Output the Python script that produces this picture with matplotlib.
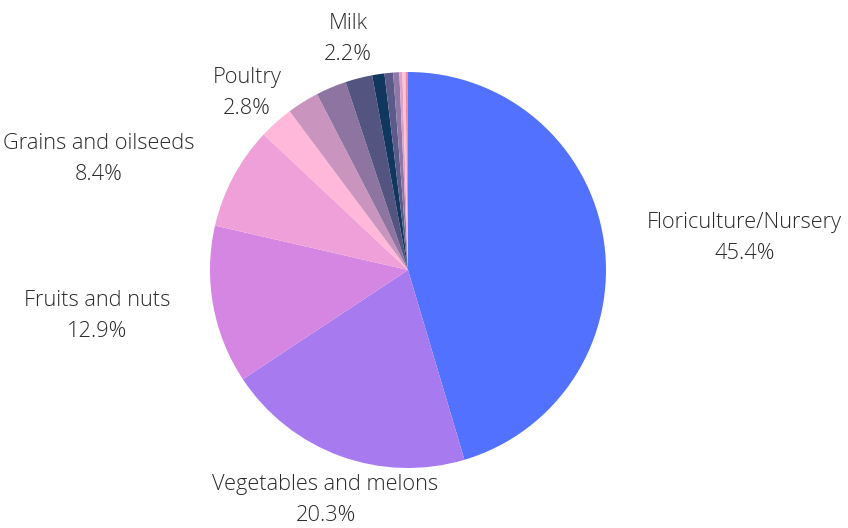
import numpy as np
import matplotlib.pyplot as plt

# Datos (porcentaje del valor de ventas)
categorias = ["Floriculture/Nursery", "Vegetables and melons", "Fruits and nuts",
              "Grains and oilseeds", "Poultry", "Other crops", "Cattle", "Milk",
              "Hogs", "Other livestock", "Aquaculture", "Sheep and goats",
              "Hay", "Other"]
valores = [45.4, 20.3, 12.9, 8.4, 2.8, 2.6, 2.5, 2.2, 1.0, 0.7, 0.5, 0.25, 0.25, 0.2]
mostrar = [True, True, True, True, True, False, False, True,
           False, False, False, False, False, False]

colores = ["#5271ff", "#a77af0", "#d585e2", "#f0a0d9", "#ffb8d9", "#c995bf",
           "#8d74a1", "#535580", "#12375e", "#5c5a8a", "#8f77a6", "#e0a0c8",
           "#ffc0d8", "#f08a9a"]

plt.rcParams["font.family"] = ["Open Sans", "DejaVu Sans"]

fig = plt.figure(figsize=(8.48, 5.28), dpi=100)
ax = fig.add_axes([0, 0, 1, 1])

CX, CY, R = 408, 528 - 270, 198

wedges, _ = ax.pie(valores, colors=colores, startangle=90, counterclock=False,
                   center=(CX, CY), radius=R,
                   wedgeprops=dict(linewidth=0))

total = sum(valores)
acum = 0.0
for nombre, v, m in zip(categorias, valores, mostrar):
    ang = np.deg2rad((acum + v / 2) / total * 360)
    acum += v
    if not m:
        continue
    s, c = np.sin(ang), np.cos(ang)
    x = CX + 1.22 * R * s
    y = CY + 1.22 * R * c - 3
    if s > 0.75:
        ha = "left"
    elif s < -0.75:
        ha = "right"
    else:
        ha = "center"
    ax.text(x, y, f"{nombre}\n{v:.1f}%", ha=ha, va="center",
            multialignment="center", fontsize=15.7, fontweight="light",
            color="#2a2a2a", linespacing=1.6)

ax.set_xlim(0, 848)
ax.set_ylim(0, 528)
ax.set_aspect("equal")
ax.axis("off")

fig.savefig("out.png", dpi=100, facecolor="white")
